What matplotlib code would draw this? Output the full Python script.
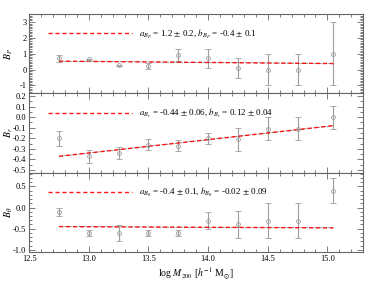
import numpy as np
import matplotlib
matplotlib.use('Agg')
import matplotlib.pyplot as plt
from matplotlib.ticker import MultipleLocator

plt.rcParams['font.family'] = ['Liberation Serif', 'DejaVu Serif']
plt.rcParams['mathtext.fontset'] = 'stix'
plt.rcParams['font.size'] = 6
plt.rcParams['axes.unicode_minus'] = False

# halo mass bins
logm = [12.75, 13.0, 13.25, 13.5, 13.75, 14.0, 14.25, 14.5, 14.75, 15.05]

bp = [0.7, 0.66, 0.28, 0.23, 0.92, 0.7, 0.1, 0.0, 0.0, 1.0]
bp_err = [0.2, 0.03, 0.03, 0.2, 0.4, 0.6, 0.6, 1.0, 1.0, 2.0]

br = [-0.2, -0.37, -0.34, -0.26, -0.27, -0.2, -0.21, -0.11, -0.11, 0.0]
br_err = [0.07, 0.06, 0.06, 0.05, 0.05, 0.05, 0.11, 0.11, 0.11, 0.11]

bt = [-0.1, -0.6, -0.6, -0.6, -0.6, -0.31, -0.4, -0.31, -0.31, 0.4]
bt_err = [0.1, 0.07, 0.19, 0.08, 0.08, 0.2, 0.31, 0.41, 0.41, 0.3]

# fitted lines (end points)
fit_x = [12.75, 15.05]
fit_bp = [0.53, 0.38]
fit_br = [-0.37, -0.08]
fit_bt = [-0.45, -0.48]

labels = [r'$a_{B_P}$ = 1.2 $\pm$ 0.2, $b_{B_P}$ = -0.4 $\pm$ 0.1',
          r'$a_{B_r}$ = -0.44 $\pm$ 0.06, $b_{B_r}$ = 0.12 $\pm$ 0.04',
          r'$a_{B_\theta}$ = -0.4 $\pm$ 0.1, $b_{B_\theta}$ = -0.02 $\pm$ 0.09']
ylabels = [r'$B_P$', r'$B_r$', r'$B_\theta$']
ylims = [(-1.5, 3.5), (-0.525, 0.225), (-1.05, 0.82)]
majors = [1.0, 0.1, 0.5]
minors = [0.1, 0.05, 0.1]

fig, axes = plt.subplots(3, 1, figsize=(3.74, 2.81), dpi=100, sharex=True)
fig.subplots_adjust(left=0.078, right=0.971, top=0.95, bottom=0.103, hspace=0)

data = [(bp, bp_err, fit_bp), (br, br_err, fit_br), (bt, bt_err, fit_bt)]
for i, ax in enumerate(axes):
    y, yerr, fit = data[i]
    ax.errorbar(logm, y, yerr=yerr, fmt='o', color='0.62', mfc='none', ms=2.8,
                mew=0.6, elinewidth=0.8, capsize=2, capthick=0.6)
    ax.plot(fit_x, fit, color='0.2', ls=(0, (3, 2)), lw=0.4)
    ax.plot(fit_x, fit, color='red', ls=(0, (3, 2)), lw=1.0, alpha=0.9, label=labels[i])
    ax.legend(loc='upper left', frameon=False, handlelength=9.3, handletextpad=0.8,
              bbox_to_anchor=(0.056, 0.83), borderaxespad=0, borderpad=0, fontsize=6.5)
    ax.set_ylim(ylims[i])
    ax.set_xlim(12.5, 15.3)
    ax.yaxis.set_major_locator(MultipleLocator(majors[i]))
    ax.yaxis.set_minor_locator(MultipleLocator(minors[i]))
    ax.xaxis.set_major_locator(MultipleLocator(0.5))
    ax.xaxis.set_minor_locator(MultipleLocator(0.1))
    ax.tick_params(which='both', direction='in', top=True, right=True, width=0.6,
                   color='0.4', labelsize=6, pad=2)
    ax.tick_params(which='major', length=4)
    ax.tick_params(which='minor', length=2)
    for s in ax.spines.values():
        s.set_linewidth(0.8)
        s.set_color('0.4')
    ax.set_ylabel(ylabels[i], fontsize=7, va='center')
    ax.yaxis.set_label_coords(-0.062, 0.5)

axes[0].set_yticks([-1, 0, 1, 2, 3])
axes[1].set_yticks([-0.5, -0.4, -0.3, -0.2, -0.1, 0.0, 0.1, 0.2])
axes[2].set_yticks([-1.0, -0.5, 0.0, 0.5])
axes[2].set_xlabel(r'log $M_{200}$ [$h^{-1}$ M$_{\odot}$]', fontsize=7, labelpad=2)

fig.savefig('out.png', dpi=100)
